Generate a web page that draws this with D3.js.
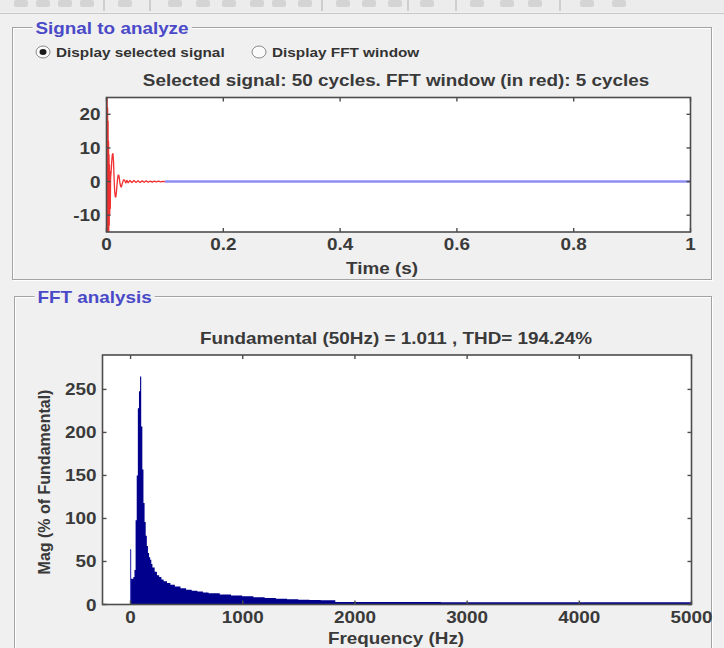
<!DOCTYPE html>
<html lang="en">
<head>
  <meta charset="UTF-8">
  <title>FFT Analysis</title>
  <style>
    body { margin: 0; background: #f0f0f0; }
    svg { display: block; font-family: "Liberation Sans", Arial, sans-serif; }
    .tick-label { font-size: 16px; font-weight: bold; fill: #3a3a3a; }
    .axis-title { font-size: 16px; font-weight: bold; fill: #3a3a3a; }
    .panel-title { font-size: 16px; font-weight: bold; fill: #4a4ac8; }
    .radio-label { font-size: 13px; font-weight: bold; fill: #333; }
  </style>
</head>
<body>
<div id="chart"></div>
<script src="https://d3js.org/d3.v7.min.js"></script>
<script>
// ---- data: selected signal (red part = FFT window, blue = rest) ----
const sigTime = [0, 0.0003, 0.0007, 0.0011, 0.0015, 0.0019, 0.0023, 0.0027, 0.0031, 0.0035,
  0.0039, 0.0043, 0.0047, 0.0051, 0.0055, 0.006, 0.0065, 0.007, 0.008, 0.009, 0.010, 0.011,
  0.012, 0.013, 0.014, 0.015, 0.016, 0.017, 0.018, 0.019, 0.020, 0.021, 0.022, 0.023, 0.0245,
  0.0255, 0.027, 0.029, 0.031, 0.033, 0.035, 0.037, 0.040, 0.0435, 0.047, 0.0505, 0.054,
  0.0575, 0.061, 0.0645, 0.068, 0.0715, 0.075, 0.0785, 0.082, 0.0855, 0.089, 0.0925, 0.096, 0.1];
const sigValue = [0, 25, -15, 25, -15, 22, -15, 18, -15, 12,
  -15, 8, -13, 5, -10, 3, -8, 1, 3, 6, 8, 8.3,
  6, 1, -3, -4.5, -4.6, -3, -1, 0.8, 1.9, 1.9, 1, -0.5, -1.5,
  -1.6, -0.6, 0.5, 0.4, -0.4, 0.35, -0.35, 0.3, -0.3, 0.3, -0.25, 0.25,
  -0.25, 0.2, -0.2, 0.2, -0.2, 0.15, -0.15, 0.15, -0.1, 0.1, -0.1, 0.05, 0];
const restTime = [0.1, 1];
const restValue = [0, 0];

// ---- data: FFT spectrum (Hz, % of fundamental); each reading holds until the next one ----
const fftFreq = [0, 10, 20, 30, 40, 50, 60, 70, 80, 90, 100, 110, 120, 130, 140, 150, 160, 170,
  180, 190, 200, 220, 240, 260, 280, 300, 330, 360, 400, 450, 500, 550, 600, 650, 700, 800,
  900, 1000, 1100, 1200, 1300, 1400, 1500, 1600, 1700, 1830, 2770];
const fftMag = [64, 30, 30, 32, 40, 98, 150, 228, 248, 265, 207, 157, 118, 96, 80, 68, 60, 55,
  52, 47, 43, 38, 34, 32, 29, 27, 25, 23, 21, 19, 17, 16, 15, 14, 13, 11.5,
  10.5, 9.5, 8.5, 7.5, 6.8, 6.2, 5.6, 5.2, 4.8, 3.0, 2.6];
const fftMaxFreq = 5000;

const timeTicks = [0, 0.2, 0.4, 0.6, 0.8, 1];
const signalTicks = [-10, 0, 10, 20];
const freqTicks = [0, 1000, 2000, 3000, 4000, 5000];
const magTicks = [0, 50, 100, 150, 200, 250];

const width = 724, height = 648;
const stretch = 1.18; // the screenshot is widened horizontally

const svg = d3.select('#chart').append('svg')
  .attr('width', width)
  .attr('height', height);

svg.append('rect').attr('width', width).attr('height', height).attr('fill', '#f0f0f0');

// horizontal text, widened like the screenshot
function label(parent, cls, x, y, txt, anchor) {
  return parent.append('text').attr('class', cls)
    .attr('transform', `translate(${x},${y}) scale(${stretch},1)`)
    .attr('text-anchor', anchor || 'start')
    .text(txt);
}

// toolbar strip at the very top (cut off in the screenshot)
const toolbar = svg.append('g');
toolbar.append('rect').attr('x', 0).attr('y', 0).attr('width', width).attr('height', 12).attr('fill', '#ececec');
[14, 36, 58, 80, 118, 168, 196, 222, 250, 272, 298, 336, 362, 388, 420, 470, 500, 528, 580, 612].forEach(x => {
  toolbar.append('rect').attr('x', x).attr('y', 0).attr('width', 14).attr('height', 7)
    .attr('rx', 2).attr('fill', '#c4c4c4').attr('opacity', 0.6);
});
[104, 150, 322, 408, 456, 560].forEach(x => {
  toolbar.append('line').attr('x1', x).attr('x2', x).attr('y1', 0).attr('y2', 11).attr('stroke', '#b0b0b0');
});
toolbar.append('line').attr('x1', 0).attr('x2', width).attr('y1', 13.5).attr('y2', 13.5).attr('stroke', '#c8c8c8');

// etched group box with title
function panel(x, y, w, h, title) {
  const g = svg.append('g');
  g.append('rect').attr('x', x + 1).attr('y', y + 1).attr('width', w).attr('height', h)
    .attr('fill', 'none').attr('stroke', '#ffffff');
  g.append('rect').attr('x', x).attr('y', y).attr('width', w).attr('height', h)
    .attr('fill', 'none').attr('stroke', '#a3a3a3');
  const t = label(g, 'panel-title', x + 23, y + 6, title);
  const bb = t.node().getBBox();
  g.insert('rect', 'text').attr('x', x + 23 - 3).attr('y', y - 4)
    .attr('width', bb.width * stretch + 6).attr('height', 8).attr('fill', '#f0f0f0');
}
panel(12.5, 27.5, 699, 252, 'Signal to analyze');
panel(14.5, 296.5, 697, 400, 'FFT analysis');

// radio buttons
function radio(cx, cy, checked, txt) {
  svg.append('ellipse').attr('cx', cx).attr('cy', cy).attr('rx', 7).attr('ry', 6)
    .attr('fill', '#fafafa').attr('stroke', '#8a8a8a');
  if (checked) svg.append('ellipse').attr('cx', cx).attr('cy', cy).attr('rx', 3.5).attr('ry', 3).attr('fill', '#1a1a1a');
  label(svg, 'radio-label', cx + 13, cy + 4.5, txt);
}
radio(43, 52, true, 'Display selected signal');
radio(259, 52, false, 'Display FFT window');

// MATLAB-like axes box with inward ticks on all four sides
function axesBox(x, y, xTicks, yTicks, fmtX, fmtY) {
  const [x0, x1] = x.range();
  const [y0, y1] = y.range(); // y0 bottom, y1 top
  svg.append('rect').attr('x', x0).attr('y', y1).attr('width', x1 - x0).attr('height', y0 - y1)
    .attr('fill', '#ffffff');
  return function draw() {
    const box = svg.append('g');
    box.append('rect').attr('x', x0).attr('y', y1).attr('width', x1 - x0).attr('height', y0 - y1)
      .attr('fill', 'none').attr('stroke', '#4d4d4d').attr('stroke-width', 1.6);
    xTicks.forEach(v => {
      const px = x(v);
      box.append('line').attr('x1', px).attr('x2', px).attr('y1', y0).attr('y2', y0 - 4).attr('stroke', '#4d4d4d').attr('stroke-width', 1.4);
      box.append('line').attr('x1', px).attr('x2', px).attr('y1', y1).attr('y2', y1 + 4).attr('stroke', '#4d4d4d').attr('stroke-width', 1.4);
      label(box, 'tick-label', px, y0 + 18, fmtX(v), 'middle');
    });
    yTicks.forEach(v => {
      const py = y(v);
      box.append('line').attr('x1', x0).attr('x2', x0 + 4).attr('y1', py).attr('y2', py).attr('stroke', '#4d4d4d').attr('stroke-width', 1.4);
      box.append('line').attr('x1', x1).attr('x2', x1 - 4).attr('y1', py).attr('y2', py).attr('stroke', '#4d4d4d').attr('stroke-width', 1.4);
      label(box, 'tick-label', x0 - 6, py + 6, fmtY(v), 'end');
    });
  };
}

// ---- top plot: signal ----
const xT = d3.scaleLinear().domain([0, 1]).range([106.5, 690.5]);
const yT = d3.scaleLinear().domain([-15, 25]).range([232, 97.5]);

label(svg, 'axis-title', 396, 86, 'Selected signal: 50 cycles. FFT window (in red): 5 cycles', 'middle');

const drawTopBox = axesBox(xT, yT, timeTicks, signalTicks,
  d => d === 0 || d === 1 ? String(d) : d3.format('.1f')(d), d => String(d));

svg.append('clipPath').attr('id', 'clipTop').append('rect')
  .attr('x', 106.5).attr('y', 97.5).attr('width', 584).attr('height', 134.5);

const line = d3.line().x(d => xT(d[0])).y(d => yT(d[1]));
const plotT = svg.append('g').attr('clip-path', 'url(#clipTop)');
plotT.append('path').datum(d3.zip(restTime, restValue)).attr('d', line)
  .attr('fill', 'none').attr('stroke', '#8e8ef2').attr('stroke-width', 2.5);
plotT.append('path').datum(d3.zip(sigTime, sigValue)).attr('d', line)
  .attr('fill', 'none').attr('stroke', '#f03030').attr('stroke-width', 1.3).attr('stroke-linejoin', 'round');
drawTopBox();

label(svg, 'axis-title', 382, 274, 'Time (s)', 'middle');

// ---- bottom plot: spectrum ----
const xB = d3.scaleLinear().domain([-250, 5000]).range([102.5, 691.5]);
const yB = d3.scaleLinear().domain([0, 290]).range([604.5, 355]);

label(svg, 'axis-title', 396, 344, 'Fundamental (50Hz) = 1.011 , THD= 194.24%', 'middle');

const drawBotBox = axesBox(xB, yB, freqTicks, magTicks, d => String(d), d => String(d));

// bars: each bin spans from its centre - 5 Hz up to the next reading
const bins = fftFreq.map((f, i) => ({
  x0: f - 5,
  x1: i < fftFreq.length - 1 ? fftFreq[i + 1] - 5 : fftMaxFreq,
  v: fftMag[i]
}));

// joined into one step outline so adjacent bars don't leave hairline seams
const barArea = d3.area()
  .curve(d3.curveStepAfter)
  .x(d => xB(d[0]))
  .y0(yB(0))
  .y1(d => yB(d[1]));
const steps = bins.map(b => [b.x0, b.v]).concat([[fftMaxFreq, bins[bins.length - 1].v]]);
svg.append('path').datum(steps).attr('d', barArea).attr('fill', '#00008c');

// DC bar is drawn slightly lighter in the reference
svg.append('rect')
  .attr('x', xB(bins[0].x0)).attr('width', xB(bins[0].x1) - xB(bins[0].x0))
  .attr('y', yB(bins[0].v)).attr('height', yB(0) - yB(bins[0].v))
  .attr('fill', '#4848c0');
drawBotBox();

label(svg, 'axis-title', 396, 644, 'Frequency (Hz)', 'middle');

svg.append('text').attr('class', 'axis-title')
  .attr('transform', 'translate(50,482) rotate(-90)')
  .attr('text-anchor', 'middle').text('Mag (% of Fundamental)');
</script>
</body>
</html>
